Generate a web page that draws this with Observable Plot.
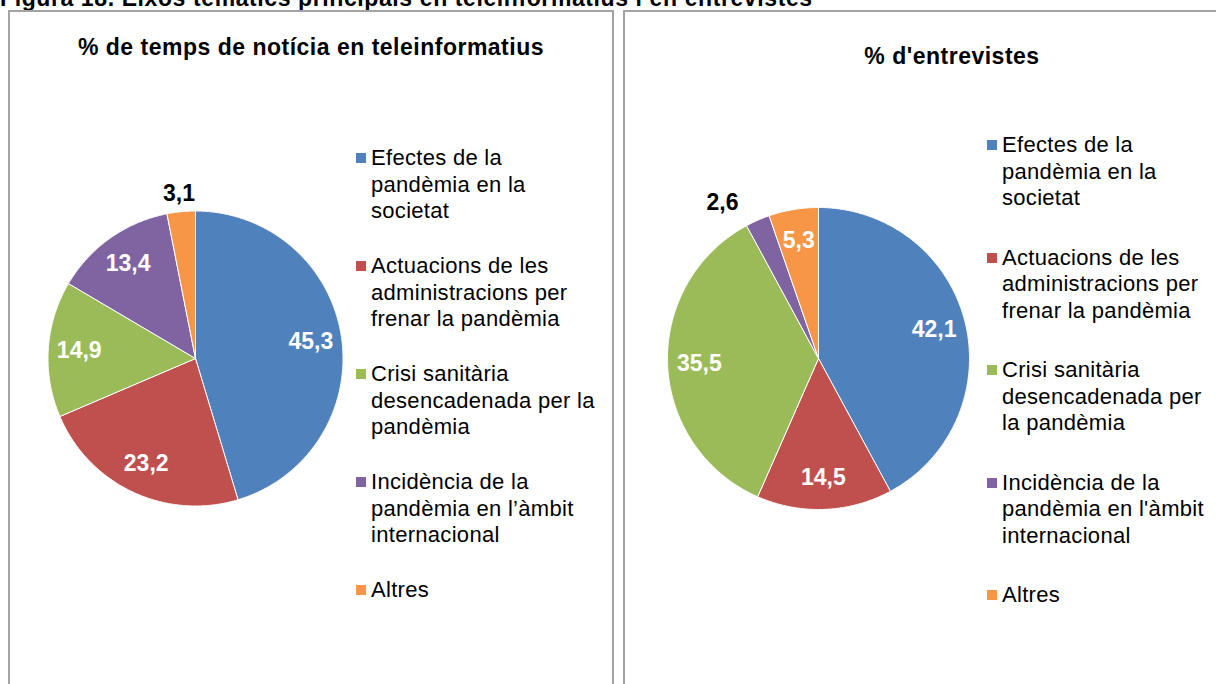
<!DOCTYPE html>
<html>
<head>
<meta charset="utf-8">
<script src="https://cdn.jsdelivr.net/npm/d3@7"></script>
<script src="https://cdn.jsdelivr.net/npm/@observablehq/plot@0.6"></script>
<style>
  html, body { margin: 0; padding: 0; background: #fff; }
  #page { position: relative; width: 1216px; height: 684px; overflow: hidden; background: #fff;
          font-family: "Liberation Sans", Arial, sans-serif; color: #000; }
  .abs { position: absolute; }
  .panel { position: absolute; box-sizing: border-box; border: 2px solid #a3a3a3; background: transparent; }
  .figtitle { font-weight: bold; font-size: 23px; line-height: 23px; letter-spacing: 0.6px; white-space: nowrap; }
  .ptitle { font-weight: bold; font-size: 23px; line-height: 24px; letter-spacing: 0.5px; text-align: center; white-space: nowrap; }
  .legend-item { position: absolute; display: flex; align-items: flex-start; }
  .legend-item .sw { width: 10px; height: 10px; flex: none; }
  .legend-item .tx { font-size: 22px; line-height: 26.5px; letter-spacing: 0.3px; white-space: pre; }
</style>
</head>
<body>
<div id="page"></div>
<script>
// ---- data ----
const figureTitle = "Figura 18. Eixos temàtics principals en teleinformatius i en entrevistes";
const categories = [
  "Efectes de la pandèmia en la societat",
  "Actuacions de les administracions per frenar la pandèmia",
  "Crisi sanitària desencadenada per la pandèmia",
  "Incidència de la pandèmia en l'àmbit internacional",
  "Altres"
];
const colors = ["#4F81BD", "#C0504D", "#9BBB59", "#8064A2", "#F79646"];

const titleTeleinformatius = "% de temps de notícia en teleinformatius";
const valuesTeleinformatius = [45.3, 23.2, 14.9, 13.4, 3.1];
const legendTeleinformatius = [
  "Efectes de la\npandèmia en la\nsocietat",
  "Actuacions de les\nadministracions per\nfrenar la pandèmia",
  "Crisi sanitària\ndesencadenada per la\npandèmia",
  "Incidència de la\npandèmia en l’àmbit\ninternacional",
  "Altres"
];

const titleEntrevistes = "% d'entrevistes";
const valuesEntrevistes = [42.1, 14.5, 35.5, 2.6, 5.3];
const legendEntrevistes = [
  "Efectes de la\npandèmia en la\nsocietat",
  "Actuacions de les\nadministracions per\nfrenar la pandèmia",
  "Crisi sanitària\ndesencadenada per\nla pandèmia",
  "Incidència de la\npandèmia en l'àmbit\ninternacional",
  "Altres"
];

// ---- helpers ----
const page = document.getElementById("page");
function el(cls, css, text) {
  const d = document.createElement("div");
  d.className = cls;
  Object.assign(d.style, css);
  if (text != null) d.textContent = text;
  page.appendChild(d);
  return d;
}
const fmt = v => v.toFixed(1).replace(".", ",");

function pieChart(values, size, radius) {
  const e = (size / 2) / radius;
  const arcs = d3.pie().sort(null)(values);
  const pts = [];
  arcs.forEach((a, i) => {
    pts.push({k: categories[i], x: 0, y: 0});
    const n = Math.max(2, Math.ceil((a.endAngle - a.startAngle) / (Math.PI / 360)));
    for (let j = 0; j <= n; ++j) {
      const t = a.startAngle + (a.endAngle - a.startAngle) * j / n;
      pts.push({k: categories[i], x: Math.sin(t), y: Math.cos(t)});
    }
    pts.push({k: categories[i], x: 0, y: 0});
  });
  const labels = arcs.map((a, i) => {
    const m = (a.startAngle + a.endAngle) / 2;
    const out = values[i] < 4;
    const rx = out ? 1.71 : 0.79;
    const ry = out ? 1.125 : 0.79;
    return {x: rx * Math.sin(m), y: ry * Math.cos(m), text: fmt(values[i]), out};
  });
  const textOpts = {fontSize: 23, fontWeight: "bold", fontFamily: "Liberation Sans, Arial, sans-serif", letterSpacing: "0.3px"};
  return Plot.plot({
    width: size, height: size, margin: 0,
    x: {domain: [-e, e], axis: null},
    y: {domain: [-e, e], axis: null},
    color: {domain: categories, range: colors},
    style: {background: "transparent", overflow: "visible"},
    marks: [
      Plot.line(pts, {x: "x", y: "y", z: "k", fill: "k", stroke: "white", strokeWidth: 1, curve: "linear"}),
      Plot.text(labels.filter(d => !d.out), {x: "x", y: "y", text: "text", fill: "white", ...textOpts}),
      Plot.text(labels.filter(d => d.out), {x: "x", y: "y", text: "text", fill: "black", dx: 8, ...textOpts})
    ]
  });
}

function legend(labels, left, top, gap) {
  let y = top;
  labels.forEach((lab, i) => {
    const item = el("legend-item", {left: left + "px", top: y + "px"});
    const sw = document.createElement("div");
    sw.className = "sw";
    sw.style.background = colors[i];
    sw.style.marginTop = "8px";
    sw.style.marginRight = "5px";
    const tx = document.createElement("div");
    tx.className = "tx";
    tx.textContent = lab;
    item.appendChild(sw); item.appendChild(tx);
    y += lab.split("\n").length * 26.5 + gap;
  });
}

// ---- layout ----
el("figtitle abs", {left: "0px", top: "-13px"}, figureTitle);
el("panel", {left: "8px", top: "10px", width: "606px", height: "700px"});
el("panel", {left: "623px", top: "10px", width: "700px", height: "700px"});

el("ptitle abs", {left: "8px", width: "606px", top: "35px"}, titleTeleinformatius);
el("ptitle abs", {left: "752px", width: "400px", top: "44px"}, titleEntrevistes);

const SIZE = 380;
const c1 = el("abs", {left: (194.5 - SIZE / 2) + "px", top: (358 - SIZE / 2) + "px"});
c1.appendChild(pieChart(valuesTeleinformatius, SIZE, 147.5));
const c2 = el("abs", {left: (818 - SIZE / 2) + "px", top: (358 - SIZE / 2) + "px"});
c2.appendChild(pieChart(valuesEntrevistes, SIZE, 151));

legend(legendTeleinformatius, 356, 145, 28.5);
legend(legendEntrevistes, 987, 132, 33);
</script>
</body>
</html>
